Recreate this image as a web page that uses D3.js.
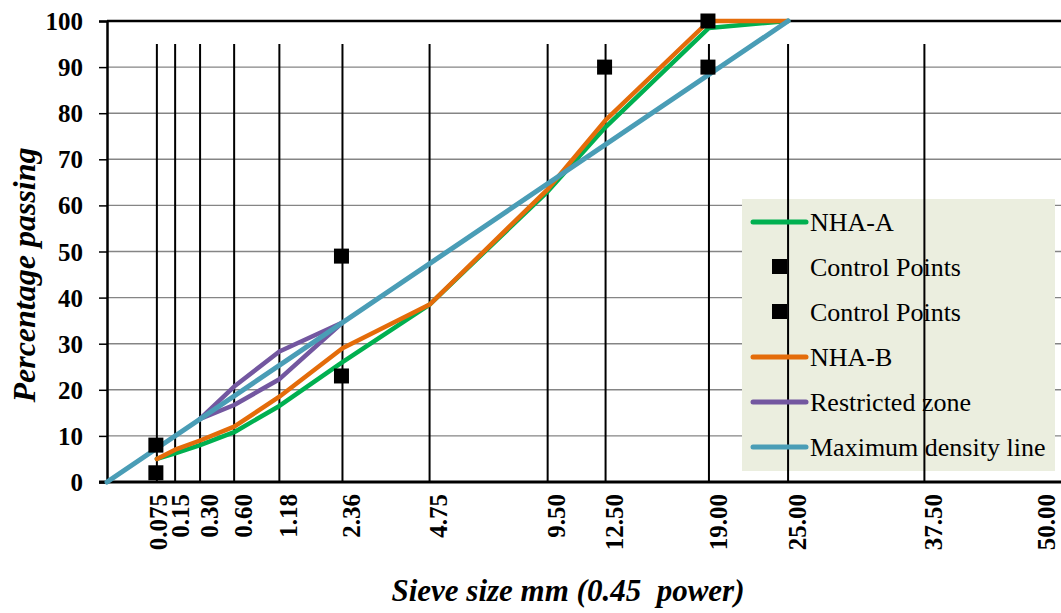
<!DOCTYPE html>
<html>
<head>
<meta charset="utf-8">
<script src="https://cdn.jsdelivr.net/npm/d3@7"></script>
<style>
  html, body { margin: 0; padding: 0; background: #fff; overflow: hidden; }
  svg { display: block; font-family: "Liberation Serif", "Times New Roman", serif; }
</style>
</head>
<body>
<svg id="chart" width="1061" height="613"></svg>
<script>
// ---- data ----
const sieveSizes = [0.075, 0.15, 0.30, 0.60, 1.18, 2.36, 4.75, 9.50, 12.50, 19.00, 25.00, 37.50, 50.00];
const sieveLabels = ["0.075", "0.15", "0.30", "0.60", "1.18", "2.36", "4.75", "9.50", "12.50", "19.00", "25.00", "37.50", "50.00"];
const verticalLineSizes = [0.075, 0.15, 0.30, 0.60, 1.18, 2.36, 4.75, 9.50, 12.50, 19.00, 25.00, 37.50];
const gradSizes = [0.075, 0.15, 0.30, 0.60, 1.18, 2.36, 4.75, 9.50, 12.50, 19.00, 25.00];
const nhaA = [5, 6.2, 8, 10.8, 16.5, 26, 38.5, 63, 77, 98.5, 100];
const nhaB = [5, 7, 9, 12, 18.5, 29, 38.5, 63.5, 78.5, 100, 100];
const controlLowerSizes = [0.075, 2.36, 19.00];
const controlLower = [2, 23, 90];
const controlUpperSizes = [0.075, 2.36, 12.50, 19.00];
const controlUpper = [8, 49, 90, 100];
const restrictedSizes = [0.30, 0.60, 1.18, 2.36];
const restrictedUpper = [13.7, 20.7, 28.3, 34.6];
const restrictedLower = [13.7, 16.7, 22.3, 34.6];
const maxDensitySizes = [0, 25.00];
const maxDensity = [0, 100];
const yTicks = [0, 10, 20, 30, 40, 50, 60, 70, 80, 90, 100];
const legendNames = ["NHA-A", "Control Points", "Control Points", "NHA-B", "Restricted zone", "Maximum density line"];

// ---- setup ----
const svg = d3.select("#chart");
const W = 1061;
const pw = s => Math.pow(s, 0.45);
const x = d3.scaleLinear().domain([0, 6]).range([107, 1067]);
const y = d3.scaleLinear().domain([0, 100]).range([482, 21]);
const colors = { a: "#00B050", b: "#E46C0A", rz: "#7357A0", md: "#4A9DB6" };

// horizontal gridlines
svg.append("g").selectAll("line").data(yTicks.filter(t => t > 0 && t < 100)).join("line")
  .attr("x1", x(0)).attr("x2", W).attr("y1", d => y(d)).attr("y2", d => y(d))
  .attr("stroke", "#858585").attr("stroke-width", 1.4);

// top line at 100
svg.append("line").attr("x1", x(0)).attr("x2", W).attr("y1", y(100)).attr("y2", y(100))
  .attr("stroke", "#000").attr("stroke-width", 2.5);

// legend background
const lg = { x: 742, y: 199, w: 313, h: 272 };
svg.append("rect").attr("x", lg.x).attr("y", lg.y).attr("width", lg.w).attr("height", lg.h)
  .attr("fill", "#EBEEDF");

// vertical sieve lines
svg.append("g").selectAll("line").data(verticalLineSizes).join("line")
  .attr("x1", d => x(pw(d))).attr("x2", d => x(pw(d)))
  .attr("y1", y(95)).attr("y2", y(0))
  .attr("stroke", "#000").attr("stroke-width", 2);

// y axis
const yAxis = d3.axisLeft(y).tickValues(yTicks).tickSize(8).tickFormat(d3.format("d"));
const yg = svg.append("g").attr("transform", `translate(${x(0)},0)`).call(yAxis);
yg.select(".domain").attr("stroke", "#000").attr("stroke-width", 2.5);
yg.selectAll(".tick line").attr("stroke", "#000").attr("stroke-width", 1.5);
yg.selectAll(".tick text").attr("x", -24).attr("dy", "0.34em")
  .style("font-family", "'Liberation Serif', serif").style("font-size", "25px")
  .style("font-weight", "bold").attr("fill", "#000");

// x axis line
svg.append("line").attr("x1", x(0) - 8).attr("x2", W).attr("y1", y(0)).attr("y2", y(0))
  .attr("stroke", "#000").attr("stroke-width", 3);

// x tick labels (rotated)
const labelShift = (i) => i === 0 ? 1 : (i === 1 ? 5 : 9);
svg.append("g").selectAll("text").data(sieveSizes).join("text")
  .attr("transform", (d, i) => `translate(${x(pw(d)) + labelShift(i)},${y(0) + 12}) rotate(-90)`)
  .attr("text-anchor", "end").attr("dy", "0.35em")
  .style("font-size", "25px").style("font-weight", "bold")
  .text((d, i) => sieveLabels[i]);

// series lines
const line = d3.line().x(d => x(pw(d[0]))).y(d => y(d[1]));
const zip = (xs, ys) => xs.map((v, i) => [v, ys[i]]);
function drawLine(data, color, w) {
  svg.append("path").datum(data).attr("d", line)
    .attr("fill", "none").attr("stroke", color).attr("stroke-width", w)
    .attr("stroke-linejoin", "round").attr("stroke-linecap", "round");
}
drawLine(zip(gradSizes, nhaA), colors.a, 4.5);
drawLine(zip(gradSizes, nhaB), colors.b, 4.5);
drawLine(zip(restrictedSizes, restrictedUpper), colors.rz, 4.5);
drawLine(zip(restrictedSizes, restrictedLower), colors.rz, 4.5);
drawLine(zip(maxDensitySizes, maxDensity), colors.md, 5);

// control points
const sq = 15;
svg.append("g").selectAll("rect")
  .data(zip(controlLowerSizes, controlLower).concat(zip(controlUpperSizes, controlUpper)))
  .join("rect")
  .attr("x", d => x(pw(d[0])) - sq / 2 - 1).attr("y", d => y(d[1]) - sq / 2)
  .attr("width", sq).attr("height", sq).attr("fill", "#000");

// legend entries
const legendTypes = ["line", "square", "square", "line", "line", "line"];
const legendColors = [colors.a, "#000", "#000", colors.b, colors.rz, colors.md];
const lgItems = svg.append("g").selectAll("g").data(legendNames).join("g")
  .attr("transform", (d, i) => `translate(0,${222 + i * 45})`);
lgItems.each(function (d, i) {
  const g = d3.select(this);
  if (legendTypes[i] === "line") {
    g.append("line").attr("x1", 753).attr("x2", 806).attr("y1", 0).attr("y2", 0)
      .attr("stroke", legendColors[i]).attr("stroke-width", 5).attr("stroke-linecap", "round");
  } else {
    g.append("rect").attr("x", 772).attr("y", -8).attr("width", 15).attr("height", 15).attr("fill", "#000");
  }
  g.append("text").attr("x", 810).attr("dy", "0.35em")
    .style("font-size", "26px").text(d);
});

// axis titles
svg.append("text")
  .attr("transform", `translate(35,275) rotate(-90)`)
  .attr("text-anchor", "middle")
  .style("font-size", "32px").style("font-weight", "bold").style("font-style", "italic")
  .text("Percentage passing");
svg.append("text")
  .attr("x", 568).attr("y", 601).attr("text-anchor", "middle")
  .style("font-size", "31px").style("font-weight", "bold").style("font-style", "italic")
  .style("white-space", "pre")
  .text("Sieve size mm (0.45  power)");
</script>
</body>
</html>
